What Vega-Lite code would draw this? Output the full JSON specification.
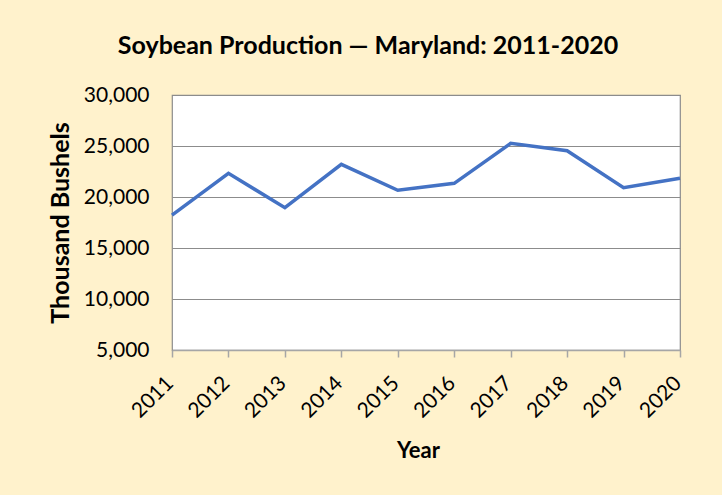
{
  "$schema": "https://vega.github.io/schema/vega-lite/v6.json",
  "width": 508,
  "height": 255,
  "autosize": {"type": "none"},
  "padding": {"left": 172, "top": 95, "right": 42, "bottom": 145},
  "background": "#FFF2CC",
  "title": {
    "text": "Soybean Production — Maryland: 2011-2020",
    "font": "Lato",
    "fontSize": 25,
    "fontWeight": "bold",
    "color": "#000000",
    "anchor": "middle",
    "dx": -58,
    "offset": 25
  },
  "data": {
    "values": [
      {"year": "2011", "production": 18230},
      {"year": "2012", "production": 22320},
      {"year": "2013", "production": 18950},
      {"year": "2014", "production": 23200},
      {"year": "2015", "production": 20660},
      {"year": "2016", "production": 21340},
      {"year": "2017", "production": 25260},
      {"year": "2018", "production": 24540},
      {"year": "2019", "production": 20910},
      {"year": "2020", "production": 21830}
    ]
  },
  "mark": {"type": "line", "color": "#4472C4", "strokeWidth": 3.5},
  "encoding": {
    "x": {
      "field": "year",
      "type": "ordinal",
      "scale": {"type": "point", "padding": 0},
      "axis": {
        "title": "Year",
        "titleFont": "Lato",
        "titleFontSize": 22,
        "titleFontWeight": "bold",
        "titleColor": "#000000",
        "titleX": 246,
        "titleY": 100,
        "titleBaseline": "middle",
        "titleAlign": "center",
        "labelAngle": -45,
        "labelFont": "Lato",
        "labelFontSize": 21,
        "labelColor": "#000000",
        "labelPadding": 15,
        "labelOffset": -10,
        "domainColor": "#A6A6A6",
        "domainWidth": 1.5,
        "tickColor": "#A6A6A6",
        "tickWidth": 1.5,
        "tickSize": 7,
        "grid": false
      }
    },
    "y": {
      "field": "production",
      "type": "quantitative",
      "scale": {"domain": [5000, 30000], "nice": false, "zero": false},
      "axis": {
        "title": "Thousand Bushels",
        "titleFont": "Lato",
        "titleFontSize": 25,
        "titleFontWeight": "bold",
        "titleColor": "#000000",
        "titleX": -112,
        "titleY": 127.5,
        "titleAngle": -90,
        "titleBaseline": "middle",
        "titleAlign": "center",
        "values": [5000, 10000, 15000, 20000, 25000, 30000],
        "format": ",d",
        "labelFont": "Lato",
        "labelFontSize": 21,
        "labelColor": "#000000",
        "labelPadding": 23,
        "ticks": false,
        "domain": false,
        "grid": true,
        "gridColor": "#8C8C8C",
        "gridWidth": 1.2
      }
    }
  },
  "config": {
    "view": {"fill": "#FFFFFF", "stroke": "#8C8C8C", "strokeWidth": 1.2}
  }
}
